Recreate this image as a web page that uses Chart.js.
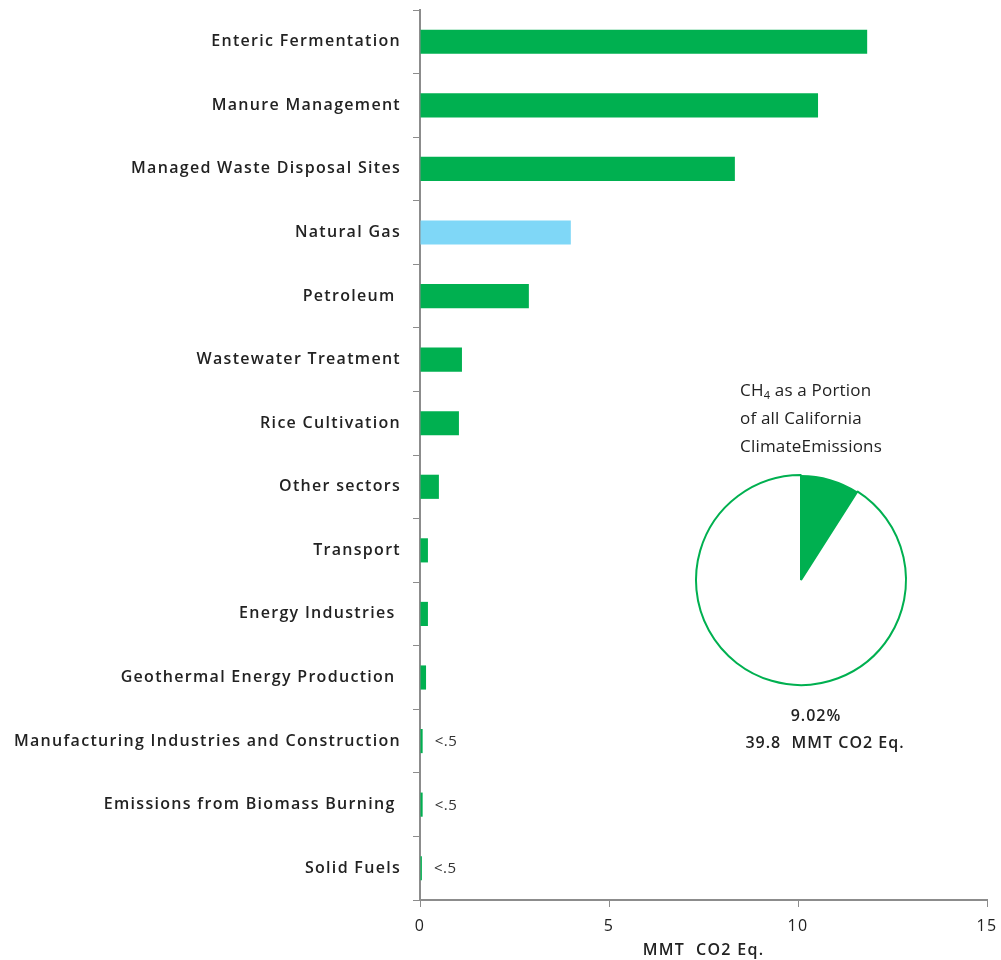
<!DOCTYPE html>
<html>
<head>
<meta charset="utf-8">
<script src="https://cdn.jsdelivr.net/npm/chart.js@4.4.0/dist/chart.umd.min.js"></script>
<style>
  html, body { margin: 0; padding: 0; background: #fff; }
  #wrap { position: relative; width: 1001px; height: 960px; font-family: "Open Sans", sans-serif; }
  #main { position: absolute; left: 0; top: 0; }
  #pieBox { position: absolute; left: 689px; top: 468px; width: 224px; height: 224px; }
  .txt { position: absolute; color: #222; font-family: "Open Sans", sans-serif; white-space: nowrap; }
  #pieTitle { left: 740px; top: 376px; font-size: 17px; line-height: 28px; font-weight: 500; letter-spacing: 0.2px; }
  #pieTitle sub { font-size: 11px; line-height: 0; vertical-align: -3px; }
  #pieVal1 { left: 716px; top: 702px; width: 200px; text-align: center; font-size: 16px; font-weight: 600; line-height: 27px; letter-spacing: 1px; }
  #pieVal2 { left: 725px; top: 729px; width: 200px; text-align: center; font-size: 16px; font-weight: 600; line-height: 27px; letter-spacing: 1px; }
</style>
</head>
<body>
<div id="wrap">
  <canvas id="main" width="1001" height="960"></canvas>
  <div id="pieBox"><canvas id="pie" width="224" height="224"></canvas></div>
  <div class="txt" id="pieTitle">CH<sub>4</sub> as a Portion<br>of all California<br>ClimateEmissions</div>
  <div class="txt" id="pieVal1">9.02%</div>
  <div class="txt" id="pieVal2">39.8&nbsp; MMT CO2 Eq.</div>
</div>
<script>
const categories = [
  "Enteric Fermentation",
  "Manure Management",
  "Managed Waste Disposal Sites",
  "Natural Gas",
  "Petroleum ",
  "Wastewater Treatment",
  "Rice Cultivation",
  "Other sectors",
  "Transport",
  "Energy Industries ",
  "Geothermal Energy Production ",
  "Manufacturing Industries and Construction",
  "Emissions from Biomass Burning ",
  "Solid Fuels"
];
const values = [11.83, 10.53, 8.33, 3.99, 2.88, 1.11, 1.03, 0.50, 0.21, 0.21, 0.16, 0.07, 0.07, 0.05];
const barColors = ["#00b050","#00b050","#00b050","#7fd7f7","#00b050","#00b050","#00b050","#00b050","#00b050","#00b050","#00b050","#00b050","#00b050","#00b050"];
const smallLabels = ["", "", "", "", "", "", "", "", "", "", "", "<.5", "<.5", "<.5"];
const xTicks = [0, 5, 10, 15];
const pieShares = [9.02, 90.98];
const pieLabels = ["CH4", "Other"];

const FONT = "'Open Sans', sans-serif";

const spacing = {
  id: 'spacing',
  beforeDraw(chart) { chart.ctx.letterSpacing = '1.3px'; }
};

const noteLabels = {
  id: 'noteLabels',
  afterDatasetsDraw(chart) {
    const ctx = chart.ctx;
    const xs = chart.scales.x, ys = chart.scales.y;
    ctx.save();
    ctx.letterSpacing = '0.5px';
    ctx.fillStyle = '#333';
    ctx.font = '15px ' + FONT;
    ctx.textBaseline = 'middle';
    ctx.textAlign = 'left';
    smallLabels.forEach((t, i) => {
      if (!t) return;
      ctx.fillText(t, xs.getPixelForValue(values[i]) + 12, ys.getPixelForValue(i) + 1);
    });
    ctx.restore();
  }
};

new Chart(document.getElementById('main'), {
  type: 'bar',
  data: {
    labels: categories,
    datasets: [{
      data: values,
      backgroundColor: barColors,
      barPercentage: 0.38,
      categoryPercentage: 1.0
    }]
  },
  options: {
    indexAxis: 'y',
    responsive: false,
    animation: false,
    layout: { padding: { left: 10, right: 14, top: 10, bottom: 0 } },
    plugins: { legend: { display: false }, tooltip: { enabled: false } },
    scales: {
      y: {
        afterFit(s) { s.width = 410; s.paddingTop = 0; s.paddingBottom = 0; },
        grid: { display: true, drawOnChartArea: false, drawTicks: true, tickLength: 7, color: '#8c8c8c', offset: true },
        border: { display: true, color: '#8c8c8c', width: 2 },
        ticks: { color: '#222', padding: 12, font: { family: FONT, size: 16, weight: '600' } }
      },
      x: {
        min: 0, max: 15,
        afterBuildTicks(s) { s.ticks = xTicks.map(v => ({ value: v })); },
        afterFit(s) { s.height = 60; s.paddingLeft = 0; s.paddingRight = 0; },
        grid: { display: true, drawOnChartArea: false, drawTicks: true, tickLength: 7, color: '#8c8c8c' },
        border: { display: true, color: '#8c8c8c', width: 2 },
        ticks: { color: '#222', padding: 10, font: { family: FONT, size: 16 } },
        title: { display: true, text: 'MMT  CO2 Eq.', color: '#222', font: { family: FONT, size: 16, weight: '600' }, padding: { top: 0, bottom: 0 } }
      }
    }
  },
  plugins: [spacing, noteLabels]
});

new Chart(document.getElementById('pie'), {
  type: 'pie',
  data: {
    labels: pieLabels,
    datasets: [{
      data: pieShares,
      backgroundColor: ['#00b050', '#ffffff'],
      borderColor: '#00b050',
      borderWidth: [0, 2]
    }]
  },
  options: {
    responsive: false,
    animation: false,
    layout: { padding: 6 },
    plugins: { legend: { display: false }, tooltip: { enabled: false } }
  }
});
</script>
</body>
</html>
